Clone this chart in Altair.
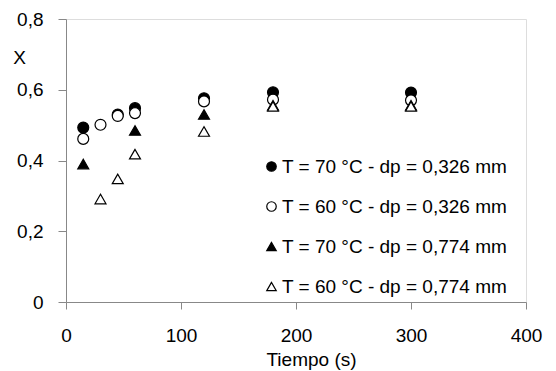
import altair as alt
import pandas as pd

series = [
    "T = 70 °C - dp = 0,326 mm",
    "T = 60 °C - dp = 0,326 mm",
    "T = 70 °C - dp = 0,774 mm",
    "T = 60 °C - dp = 0,774 mm",
]
shapes = ["circle", "circle", "triangle-up", "triangle-up"]
fills = ["black", "white", "black", "white"]
strokes = ["black", "black", "black", "black"]

t_fc = [15, 45, 60, 120, 180, 300]
x_fc = [0.493, 0.530, 0.548, 0.576, 0.593, 0.592]
t_oc = [15, 30, 45, 60, 120, 180, 300]
x_oc = [0.461, 0.501, 0.526, 0.534, 0.567, 0.572, 0.570]
t_ft = [15, 60, 120, 180, 300]
x_ft = [0.390, 0.485, 0.530, 0.556, 0.556]
t_ot = [30, 45, 60, 120, 180, 300]
x_ot = [0.291, 0.348, 0.418, 0.482, 0.553, 0.553]

x_ticks = [0, 100, 200, 300, 400]
y_ticks = [0, 0.2, 0.4, 0.6, 0.8]

rows = []
for i, (s, ts, xs) in enumerate(zip(series, [t_fc, t_oc, t_ft, t_ot], [x_fc, x_oc, x_ft, x_ot])):
    for t, v in zip(ts, xs):
        rows.append({"serie": s, "idx": i, "t": t, "x": v})
df = pd.DataFrame(rows)

FONT = "Liberation Sans"
FS = 19

legend = alt.Legend(
    title=None, orient="none", legendX=196, legendY=138,
    labelFont=FONT, labelFontSize=FS, labelColor="black", labelLimit=0,
    rowPadding=20, labelOffset=1, symbolSize=90, symbolStrokeWidth=1.2,
    padding=0,
)

chart = alt.Chart(df).mark_point(filled=False, size=120, strokeWidth=1.2, opacity=1).encode(
    x=alt.X("t:Q", scale=alt.Scale(domain=[0, 400], nice=False),
            axis=alt.Axis(values=x_ticks, title="Tiempo (s)", titleX=245, titleY=63,
                          titleBaseline="alphabetic", titleFontWeight="normal", grid=False,
                          labelFlush=False, labelOverlap=False,
                          labelPadding=17, tickSize=7, labelFontSize=FS, titleFontSize=FS)),
    y=alt.Y("x:Q", scale=alt.Scale(domain=[0, 0.8], nice=False),
            axis=alt.Axis(values=y_ticks, title="X", titleAngle=0, titleX=-47, titleY=38,
                          titleAlign="center", titleBaseline="middle", titleFontWeight="normal",
                          grid=False, labelFlush=False, labelOverlap=False,
                          labelExpr="datum.value == 0 ? '0' : replace(format(datum.value, '.1f'), '.', ',')",
                          labelPadding=15, tickSize=8, labelFontSize=FS, titleFontSize=FS)),
    shape=alt.Shape("serie:N", scale=alt.Scale(domain=series, range=shapes), legend=legend),
    fill=alt.Fill("serie:N", scale=alt.Scale(domain=series, range=fills), legend=legend),
    stroke=alt.Stroke("serie:N", scale=alt.Scale(domain=series, range=strokes), legend=legend),
    order=alt.Order("idx:Q"),
).properties(
    width=460, height=283,
    padding={"left": 66, "top": 19, "right": 30, "bottom": 69},
    autosize=alt.AutoSizeParams(type="none"),
).configure_view(
    stroke="#a0a0a0", strokeWidth=1
).configure_axis(
    grid=False, domainColor="#333333", tickColor="#333333", labelColor="black",
    titleColor="black", labelFont=FONT, titleFont=FONT,
).configure(background="white")

chart.save("out.html", embed_options={"renderer": "svg", "actions": False})
